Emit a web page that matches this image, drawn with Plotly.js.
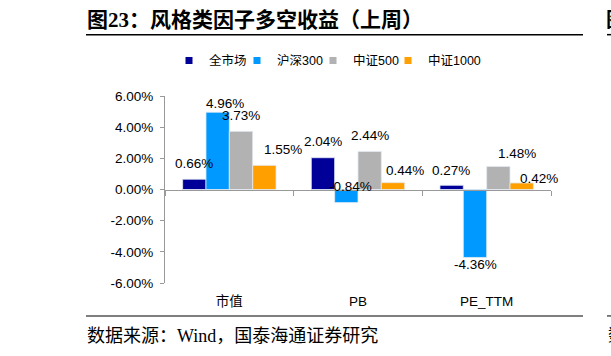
<!DOCTYPE html>
<html>
<head>
<meta charset="utf-8">
<script src="https://cdn.plot.ly/plotly-3.0.1.min.js"></script>
<style>
html,body{margin:0;padding:0;background:#fff;}
#chart{width:611px;height:356px;}
</style>
</head>
<body>
<div id="chart"></div>
<script>
// ---- data ----
var categories = ['市值', 'PB', 'PE_TTM'];
var seriesNames = ['全市场', '沪深300', '中证500', '中证1000'];
var quanShiChang = [0.66, 2.04, 0.27];
var huShen300 = [4.96, -0.84, -4.36];
var zhongZheng500 = [3.73, 2.44, 1.48];
var zhongZheng1000 = [1.55, 0.44, 0.42];
var yTickVals = [-6, -4, -2, 0, 2, 4, 6];
var yTickText = ['-6.00%', '-4.00%', '-2.00%', '0.00%', '2.00%', '4.00%', '6.00%'];

// ---- styles ----
var colors = ['#000099', '#0099FF', '#B2B2B2', '#FF9F00'];
var seriesValues = [quanShiChang, huShen300, zhongZheng500, zhongZheng1000];
// label pixel offsets relative to bar end (Excel-style label placement)
var labelDx = [[0, 0, -1], [7, 4, 1], [0, 0, 19], [19, 12, 17]];
var labelDy = [[16, 16, 15], [9, 16, -7], [16, 16, 13], [16, 12, 4]];
// legend entry left positions (px)
var legendLeftPx = [169, 237, 313, 388];

var bargap = 0.274;
var nSeries = seriesValues.length;
var barW = (1 - bargap) / nSeries;

var L = 165, R = 551, T = 96, B = 283.5;
function px(x) { return (x - L) / (R - L); }
function py(y) { return (B - y) / (B - T); }

var traces = [];
var annotations = [];
var legendLayouts = {};
seriesValues.forEach(function (vals, i) {
  var legId = i === 0 ? 'legend' : 'legend' + (i + 1);
  traces.push({
    type: 'bar', x: categories, y: vals, name: seriesNames[i],
    marker: {color: colors[i], line: {color: '#e3ebf3', width: 0.8}},
    showlegend: false, hoverinfo: 'skip'
  });
  traces.push({
    type: 'scatter', mode: 'markers', x: categories, y: vals.map(function () { return null; }),
    name: seriesNames[i], marker: {symbol: 'square', size: 7, color: colors[i]},
    showlegend: true, legend: legId, hoverinfo: 'skip'
  });
  legendLayouts[legId] = {
    orientation: 'h', x: px(legendLeftPx[i]), xanchor: 'left', y: py(60.7), yanchor: 'middle',
    font: {family: 'Arial, Liberation Sans, Noto Sans CJK SC, sans-serif', size: 12.5, color: '#000'},
    itemwidth: 30, bgcolor: 'rgba(0,0,0,0)'
  };
  vals.forEach(function (v, j) {
    var off = -(1 - bargap) / 2 + (i + 0.5) * barW;
    annotations.push({
      xref: 'x', yref: 'y', x: j + off, y: v,
      text: v.toFixed(2) + '%', showarrow: false,
      xanchor: 'center', yanchor: 'middle',
      xshift: labelDx[i][j], yshift: labelDy[i][j],
      font: {family: 'Arial, Liberation Sans, sans-serif', size: 13.5, color: '#000'}
    });
  });
});
// invisible trace for the zero-line category axis
traces.push({type: 'scatter', mode: 'markers', x: categories, y: categories.map(function () { return null; }),
  xaxis: 'x2', yaxis: 'y', showlegend: false, hoverinfo: 'skip'});

annotations.push({
  xref: 'paper', yref: 'paper', x: px(85), y: py(336.5), xanchor: 'left', yanchor: 'middle',
  text: '数据来源：Wind，国泰海通证券研究', showarrow: false,
  font: {family: 'Liberation Serif, Noto Sans CJK SC, serif', size: 18, color: '#000'}
});
annotations.push({
  xref: 'paper', yref: 'paper', x: px(604), y: py(20), xanchor: 'left', yanchor: 'middle',
  text: '<b>图</b>', showarrow: false,
  font: {family: 'Liberation Serif, Noto Sans CJK SC, serif', size: 20, color: '#000'}
});
annotations.push({
  xref: 'paper', yref: 'paper', x: px(606), y: py(336.5), xanchor: 'left', yanchor: 'middle',
  text: '数', showarrow: false,
  font: {family: 'Liberation Serif, Noto Sans CJK SC, serif', size: 17, color: '#000'}
});

var shapes = [
  {type: 'line', xref: 'paper', yref: 'paper', x0: px(86), x1: px(583), y0: py(34.5), y1: py(34.5), line: {color: '#000', width: 1.5}},
  {type: 'line', xref: 'paper', yref: 'paper', x0: px(86), x1: px(583), y0: py(316.5), y1: py(316.5), line: {color: '#555', width: 1.5}},
  {type: 'line', xref: 'paper', yref: 'paper', x0: px(607), x1: px(612), y0: py(34.5), y1: py(34.5), line: {color: '#000', width: 1.5}},
  {type: 'line', xref: 'paper', yref: 'paper', x0: px(607), x1: px(612), y0: py(316.5), y1: py(316.5), line: {color: '#555', width: 1.5}}
];

var layout = {
  width: 611, height: 356,
  margin: {l: L, r: 611 - R, t: T, b: 356 - B, pad: 0},
  paper_bgcolor: '#fff', plot_bgcolor: '#fff',
  barmode: 'group', bargap: bargap, bargroupgap: 0,
  title: {
    text: '<b>图23：风格类因子多空收益（上周）</b>',
    xref: 'container', yref: 'container', x: 87 / 611, y: 1 - 20 / 356,
    xanchor: 'left', yanchor: 'middle',
    font: {family: 'Liberation Serif, Noto Sans CJK SC, serif', size: 21, color: '#000'}
  },
  xaxis: {
    type: 'category', categoryarray: categories, range: [-0.5, 2.5],
    showline: false, showgrid: false, zeroline: false, ticks: '',
    ticklabelstandoff: 8,
    tickfont: {family: 'Arial, Liberation Sans, Noto Sans CJK SC, sans-serif', size: 13.5, color: '#000'},
    fixedrange: true
  },
  xaxis2: {
    type: 'category', categoryarray: categories, range: [-0.5, 2.5],
    overlaying: 'x', anchor: 'free', position: 0.5, side: 'bottom',
    showline: true, linecolor: '#999', linewidth: 1,
    ticks: 'outside', tickson: 'boundaries', ticklen: 5, tickcolor: '#999', tickwidth: 1,
    showticklabels: false, showgrid: false, zeroline: false, fixedrange: true
  },
  yaxis: {
    range: [-6, 6], tickvals: yTickVals, ticktext: yTickText,
    showline: true, linecolor: '#999', linewidth: 1,
    ticks: 'outside', ticklen: 4, tickcolor: '#999',
    ticklabelstandoff: 4,
    showgrid: false, zeroline: false,
    tickfont: {family: 'Arial, Liberation Sans, sans-serif', size: 13.5, color: '#000'},
    fixedrange: true
  },
  annotations: annotations,
  shapes: shapes,
  showlegend: true
};
Object.keys(legendLayouts).forEach(function (k) { layout[k] = legendLayouts[k]; });

Plotly.newPlot('chart', traces, layout, {displayModeBar: false, staticPlot: true});
</script>
</body>
</html>
